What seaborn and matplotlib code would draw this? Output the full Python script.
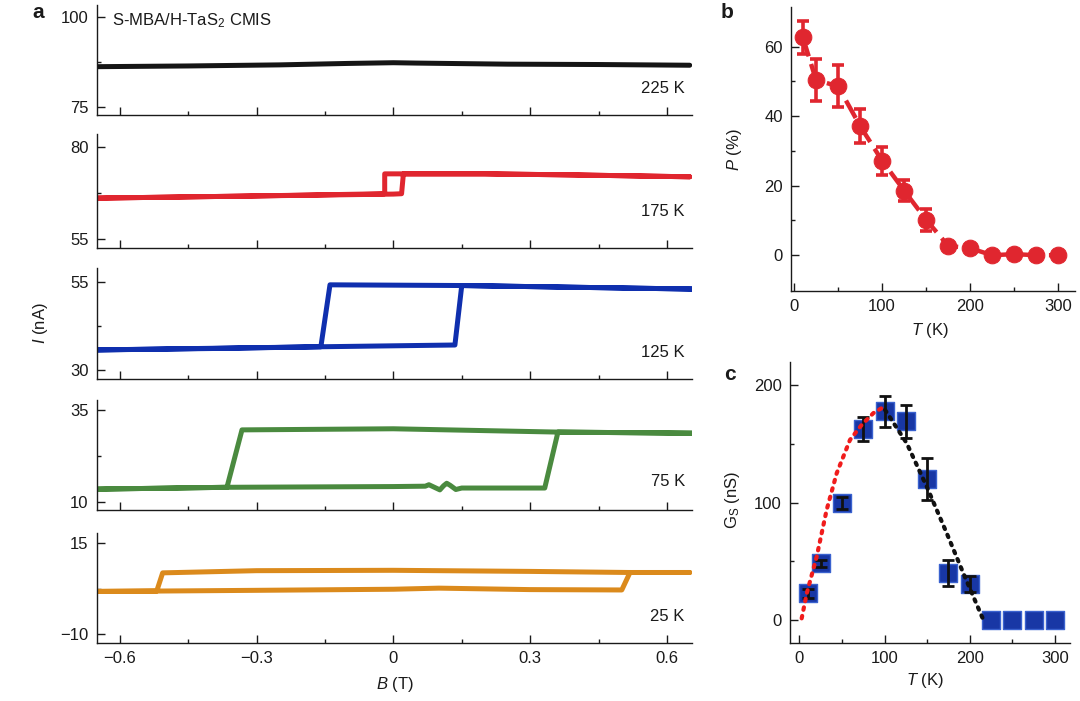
import numpy as np
import pandas as pd
import matplotlib
matplotlib.use("Agg")
import matplotlib.pyplot as plt
from matplotlib.ticker import FixedLocator
import seaborn as sns

# ---- data: panel a, hysteresis loops I(B) (down sweep then up sweep) ----
temps = ['225 K', '175 K', '125 K', '75 K', '25 K']

b_225 = [-0.65, -0.45, -0.25, -0.1, 0.0, 0.05, 0.25, 0.45, 0.65]
i_225 = [86.2, 86.4, 86.7, 87.1, 87.3, 87.2, 86.9, 86.8, 86.6]

b_175 = [0.65, 0.4, 0.2, 0.018, -0.019, -0.019, -0.3, -0.65,
         -0.65, -0.3, 0.0, 0.018, 0.022, 0.2, 0.4, 0.65]
i_175 = [71.9, 72.4, 72.7, 72.7, 72.7, 67.3, 66.7, 66.1,
         66.1, 66.7, 67.2, 67.3, 72.7, 72.7, 72.4, 71.9]

b_125 = [0.655, 0.4, 0.15, -0.139, -0.159, -0.4, -0.65,
         -0.65, -0.159, 0.135, 0.15, 0.4, 0.655]
i_125 = [53.0, 53.5, 54.0, 54.2, 36.6, 36.1, 35.7,
         35.7, 36.6, 37.1, 54.0, 53.5, 53.0]

b_75 = [0.655, 0.361, 0.0, -0.332, -0.365, -0.65,
        -0.65, -0.365, 0.0, 0.07, 0.078, 0.09, 0.102, 0.11, 0.117, 0.125, 0.137, 0.15,
        0.332, 0.361, 0.655]
i_75 = [28.7, 29.0, 29.9, 29.6, 14.0, 13.5,
        13.5, 14.0, 14.2, 14.3, 14.7, 14.0, 13.3, 14.4, 15.1, 14.5, 13.4, 13.8,
        13.8, 29.0, 28.7]

b_25 = [0.65, 0.519, 0.3, 0.0, -0.3, -0.506, -0.519, -0.65,
        -0.65, -0.519, -0.3, 0.0, 0.1, 0.3, 0.501, 0.519, 0.65]
i_25 = [6.9, 6.9, 7.2, 7.5, 7.4, 6.8, 1.8, 1.7,
        1.7, 1.8, 2.0, 2.3, 2.6, 2.2, 2.1, 6.9, 6.9]

loops = [(b_225, i_225), (b_175, i_175), (b_125, i_125), (b_75, i_75), (b_25, i_25)]
ytick_pairs = [(75, 100), (55, 80), (30, 55), (10, 35), (-10, 15)]

# ---- data: panel b, polarization ----
t_pts = [10, 25, 50, 75, 100, 125, 150, 175, 200, 225, 250, 275, 300]
p_val = [62.7, 50.4, 48.6, 37.2, 27.2, 18.6, 10.2, 2.7, 2.0, 0.0, 0.3, 0.0, 0.0]
p_err = [4.7, 6.0, 6.0, 4.8, 4.0, 3.0, 3.2, 0.8, 0.8, 0.5, 0.5, 0.5, 0.5]

# ---- data: panel c, spin conductance ----
g_val = [22.8, 48.4, 99.6, 163.0, 177.8, 169.3, 120.0, 40.4, 30.7, 0.0, 0.0, 0.0, 0.0]
g_err = [4.0, 3.0, 5.0, 10.0, 13.0, 14.0, 18.0, 11.0, 7.0, 0.0, 0.0, 0.0, 0.0]
fit_low_t = [2.8, 8.8, 20.4, 32.1, 43.9, 59.5, 73.2, 86.9, 96.7]
fit_low_g = [1.4, 22.8, 54.0, 93.9, 125.2, 153.6, 166.4, 176.4, 180.7]
fit_high_t = [100.6, 126.0, 149.5, 173.0, 192.5, 216.0]
fit_high_g = [179.2, 150.8, 113.8, 74.0, 39.8, 0.0]

# ---- style ----
sns.set_theme(style="ticks")
plt.rcParams['font.family'] = ['Liberation Sans', 'DejaVu Sans']
plt.rcParams['mathtext.fontset'] = 'custom'
plt.rcParams['mathtext.rm'] = 'Liberation Sans'
plt.rcParams['mathtext.it'] = 'Liberation Sans:italic'
plt.rcParams['mathtext.default'] = 'regular'
plt.rcParams['axes.linewidth'] = 1.0
plt.rcParams['text.color'] = '#1a1a1a'

FS = 12
loop_colors = ['#151515', '#e0262f', '#0f2fae', '#4a8a3f', '#db8a1c']

W, H = 1080, 701
fig = plt.figure(figsize=(W / 100, H / 100), dpi=100)


def px_axes(left, top, right, bottom):
    return fig.add_axes([left / W, 1 - bottom / H, (right - left) / W, (bottom - top) / H])


def style_ax(ax):
    sns.despine(ax=ax)
    ax.tick_params(which='both', direction='in', colors='#1a1a1a', labelsize=FS, pad=6)
    ax.tick_params(which='major', length=6, width=1.0)
    ax.tick_params(which='minor', length=3, width=1.0)
    for s in ['left', 'bottom']:
        ax.spines[s].set_color('#1a1a1a')


# panel a layout (pixel boxes)
a_boxes = [(97, 5, 692, 115), (97, 134, 692, 248), (97, 268, 692, 379),
           (97, 400, 692, 510), (97, 533, 692, 643)]
a_ylims = [(72.78, 103.33), (52.55, 83.53), (27.44, 58.98), (7.83, 37.72), (-12.47, 17.75)]
label_y = [0.24, 0.32, 0.24, 0.26, 0.24]

for k in range(5):
    ax = px_axes(*a_boxes[k])
    bx, iy = loops[k]
    df = pd.DataFrame({'B': bx, 'I': iy})
    sns.lineplot(data=df, x='B', y='I', sort=False, estimator=None, ax=ax,
                 color=loop_colors[k], linewidth=3.6, solid_joinstyle='round')
    ax.set_xlim(-0.65, 0.655)
    ax.set_ylim(*a_ylims[k])
    lo, hi = ytick_pairs[k]
    ax.yaxis.set_major_locator(FixedLocator([lo, hi]))
    ax.yaxis.set_minor_locator(FixedLocator([(lo + hi) / 2]))
    ax.set_yticklabels([str(lo).replace('-', '\u2212'), str(hi)])
    ax.xaxis.set_major_locator(FixedLocator([-0.6, -0.3, 0, 0.3, 0.6]))
    ax.xaxis.set_minor_locator(FixedLocator([-0.45, -0.15, 0.15, 0.45]))
    ax.set_xlabel('')
    ax.set_ylabel('')
    style_ax(ax)
    if k < 4:
        ax.set_xticklabels([])
    else:
        ax.set_xticklabels(['\u22120.6', '\u22120.3', '0', '0.3', '0.6'])
    ax.text(0.988, label_y[k], temps[k], transform=ax.transAxes, ha='right', va='center',
            fontsize=FS)
    if k == 0:
        ax.text(0.025, 0.86, 'S-MBA/H-TaS$_2$ CMIS', transform=ax.transAxes,
                ha='left', va='center', fontsize=FS)

fig.text(40 / W, 1 - 323 / H, '$\\it{I}$ (nA)', rotation=90, ha='center', va='center', fontsize=FS)
fig.text(395 / W, 1 - 685 / H, '$\\it{B}$ (T)', ha='center', va='center', fontsize=FS)
fig.text(38 / W, 1 - 13 / H, 'a', ha='center', va='center', fontsize=15, fontweight='bold')

# panel b
red = '#e0262f'
axb = px_axes(791, 7, 1075, 291)
axb.errorbar(t_pts, p_val, yerr=p_err, fmt='none', ecolor=red, elinewidth=2.6,
             capsize=4, capthick=2.6, zorder=2)
sns.lineplot(x=t_pts, y=p_val, ax=axb, color=red, linewidth=3.2,
             linestyle=(0, (4.5, 1.8)), marker='o', markersize=12,
             markeredgecolor=red, zorder=3)
axb.set_xlim(-3.4, 319)
axb.set_ylim(-10.3, 71.4)
axb.xaxis.set_major_locator(FixedLocator([0, 100, 200, 300]))
axb.xaxis.set_minor_locator(FixedLocator([50, 150, 250]))
axb.yaxis.set_major_locator(FixedLocator([0, 20, 40, 60]))
axb.yaxis.set_minor_locator(FixedLocator([10, 30, 50]))
style_ax(axb)
fig.text(735 / W, 1 - 150 / H, '$\\it{P}$ (%)', rotation=90, ha='center', va='center', fontsize=FS)
fig.text(930 / W, 1 - 330 / H, '$\\it{T}$ (K)', ha='center', va='center', fontsize=FS)
fig.text(727 / W, 1 - 12 / H, 'b', ha='center', va='center', fontsize=15, fontweight='bold')

# panel c
blue = '#1837a5'
axc = px_axes(790, 362, 1070, 643)
sns.scatterplot(x=t_pts, y=g_val, ax=axc, marker='s', s=170, color=blue,
                edgecolor='#3a62cf', linewidth=1.0, zorder=2)
axc.errorbar(t_pts, g_val, yerr=[e if e > 0 else np.nan for e in g_err], fmt='none',
             ecolor='#111111', elinewidth=2.0, capsize=4, capthick=2.0, zorder=3)
sns.lineplot(x=fit_low_t, y=fit_low_g, ax=axc, sort=False, color='#f01c1c', linewidth=3.0,
             linestyle=(0, (0.6, 1.5)), dash_capstyle='round', zorder=4)
sns.lineplot(x=fit_high_t, y=fit_high_g, ax=axc, sort=False, color='#111111', linewidth=3.0,
             linestyle=(0, (0.6, 1.5)), dash_capstyle='round', zorder=4)
axc.set_xlim(-10.9, 317.6)
axc.set_ylim(-19.6, 220)
axc.xaxis.set_major_locator(FixedLocator([0, 100, 200, 300]))
axc.xaxis.set_minor_locator(FixedLocator([50, 150, 250]))
axc.yaxis.set_major_locator(FixedLocator([0, 100, 200]))
axc.yaxis.set_minor_locator(FixedLocator([50, 150]))
style_ax(axc)
fig.text(732 / W, 1 - 500 / H, 'G$_S$ (nS)', rotation=90, ha='center', va='center', fontsize=FS)
fig.text(925 / W, 1 - 680 / H, '$\\it{T}$ (K)', ha='center', va='center', fontsize=FS)
fig.text(730 / W, 1 - 375 / H, 'c', ha='center', va='center', fontsize=15, fontweight='bold')

fig.savefig('out.png', dpi=100)
